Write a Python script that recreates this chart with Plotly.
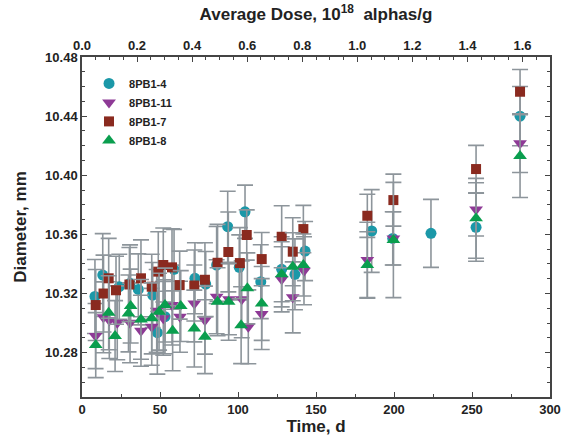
import plotly.graph_objects as go

# ---- data ----
t_4 = [8.3, 13.3, 23.9, 30.8, 36.1, 45.3, 48.3, 53.2, 59.0, 72.4, 79.3, 86.3, 93.4, 100.8,
       104.5, 114.6, 128.0, 136.5, 143.0, 185.7, 199.2, 223.7, 252.6, 280.8]
d_4 = [10.318, 10.3325, 10.3246, 10.3269, 10.3228, 10.319, 10.2935, 10.3043, 10.3364, 10.3303,
       10.3264, 10.3393, 10.3652, 10.3377, 10.3753, 10.328, 10.3364, 10.333, 10.3487, 10.3623,
       10.3573, 10.3607, 10.3648, 10.440]
e_4 = [0.025, 0.028, 0.022, 0.026, 0.024, 0.022, 0.028, 0.025, 0.027, 0.024,
       0.022, 0.026, 0.024, 0.022, 0.018, 0.025, 0.022, 0.024, 0.020, 0.028,
       0.018, 0.023, 0.023, 0.020]

t_11 = [8.7, 13.7, 17.5, 22.6, 30.8, 37.8, 44.7, 47.9, 52.1, 57.7, 62.8, 72.0, 78.8, 86.3,
        94.2, 102.4, 106.6, 115.2, 128.0, 135.1, 142.3, 182.9, 199.6, 252.6, 280.8]
d_11 = [10.2912, 10.3039, 10.302, 10.3002, 10.3002, 10.2948, 10.2975, 10.3083, 10.3032, 10.3122,
        10.3043, 10.3133, 10.302, 10.3178, 10.3161, 10.3161, 10.2975, 10.3061, 10.3296, 10.3174,
        10.3354, 10.3427, 10.3573, 10.3769, 10.4216]
e_11 = [0.022, 0.024, 0.026, 0.025, 0.027, 0.024, 0.026, 0.028, 0.025, 0.027,
        0.024, 0.026, 0.023, 0.025, 0.024, 0.026, 0.025, 0.024, 0.022, 0.024,
        0.023, 0.0255, 0.018, 0.018, 0.0197]

t_7 = [8.8, 13.8, 17.1, 21.8, 30.4, 37.8, 44.7, 48.9, 52.1, 57.7, 62.6, 72.0, 78.8, 86.9,
       93.8, 101.2, 105.6, 115.2, 128.0, 135.1, 141.9, 182.9, 199.6, 252.6, 280.8]
d_7 = [10.3122, 10.320, 10.3303, 10.3222, 10.3261, 10.3303, 10.3246, 10.3348, 10.3393, 10.3377,
       10.3257, 10.3254, 10.3293, 10.3408, 10.3481, 10.3406, 10.3596, 10.3433, 10.3584, 10.3483,
       10.3636, 10.3726, 10.3832, 10.4042, 10.4565]
e_7 = [0.024, 0.026, 0.027, 0.023, 0.025, 0.026, 0.022, 0.027, 0.025, 0.026,
       0.023, 0.024, 0.025, 0.026, 0.027, 0.024, 0.017, 0.018, 0.021, 0.023,
       0.016, 0.0146, 0.0176, 0.016, 0.015]

t_8 = [8.8, 17.1, 21.2, 29.8, 31.2, 37.8, 44.7, 49.4, 53.2, 58.1, 63.3, 72.0, 78.8, 86.9,
       94.0, 102.0, 106.0, 115.2, 128.0, 135.1, 141.9, 182.9, 199.6, 252.6, 280.8]
d_8 = [10.2851, 10.307, 10.2912, 10.3065, 10.3115, 10.3025, 10.3032, 10.3077, 10.3122, 10.2948,
       10.3115, 10.2963, 10.2908, 10.3144, 10.3144, 10.2986, 10.3235, 10.3133, 10.333, 10.3381,
       10.3393, 10.3393, 10.3562, 10.3709, 10.413]
e_8 = [0.022, 0.025, 0.024, 0.026, 0.025, 0.027, 0.024, 0.026, 0.025, 0.027,
       0.024, 0.026, 0.025, 0.023, 0.026, 0.026, 0.024, 0.025, 0.022, 0.023,
       0.021, 0.0225, 0.039, 0.027, 0.028]

x_range = [0, 300]
dose_range = [0, 1.70]
y_range = [10.25, 10.48]

FONT = "Arial, Liberation Sans, sans-serif"
ERR_COLOR = "#8d959b"
AX_COLOR = "#444444"
TXT = "#222222"

series = [
    ("8PB1-4", t_4, d_4, e_4, "circle", 11, "#1b98a8"),
    ("8PB1-11", t_11, d_11, e_11, "triangle-down", 12, "#8e3a96"),
    ("8PB1-7", t_7, d_7, e_7, "square", 10, "#8a2a1f"),
    ("8PB1-8", t_8, d_8, e_8, "triangle-up", 12, "#0a9e4e"),
]

fig = go.Figure()
for name, t, d, e, sym, sz, col in series:
    fig.add_trace(go.Scatter(
        x=t, y=d, mode="markers", name=name,
        marker=dict(symbol=sym, size=sz, color=col, line=dict(width=0)),
        error_y=dict(type="data", array=e, visible=True, color=ERR_COLOR,
                     thickness=1.6, width=8),
    ))

# invisible trace to activate top axis
fig.add_trace(go.Scatter(x=dose_range, y=[y_range[0], y_range[0]], xaxis="x2",
                         mode="markers", marker=dict(opacity=0), showlegend=False,
                         hoverinfo="skip"))

tick_font = dict(family=FONT, size=13, color=TXT, weight="bold")
title_font = dict(family=FONT, size=17, color=TXT, weight="bold")

axis_common = dict(showline=True, linecolor=AX_COLOR, linewidth=1.5, ticks="inside",
                   tickcolor=AX_COLOR, ticklen=5, tickwidth=1.2, showgrid=False,
                   zeroline=False, tickfont=tick_font)

fig.update_layout(
    width=577, height=438,
    margin=dict(l=82, r=27, t=57, b=41),
    paper_bgcolor="white", plot_bgcolor="white",
    font=dict(family=FONT, color=TXT),
    title=dict(text="Average Dose, 10<sup>18</sup>  alphas/g", font=title_font,
               x=0.5, xanchor="center", xref="paper",
               y=1 - 14 / 438, yanchor="middle", yref="container"),
    showlegend=True,
    legend=dict(x=0.015, y=0.965, xanchor="left", yanchor="top",
                bgcolor="rgba(0,0,0,0)", borderwidth=0,
                font=dict(family=FONT, size=11, color=TXT, weight="bold"),
                tracegroupgap=0, itemwidth=30),
    xaxis=dict(range=x_range, dtick=50, tick0=0, automargin=False,
               minor=dict(dtick=25, ticks="inside", ticklen=3, tickcolor=AX_COLOR),
               title=dict(text="Time, d", font=title_font, standoff=2),
               **axis_common),
    xaxis2=dict(range=dose_range, dtick=0.2, tick0=0, overlaying="x", side="top",
                tickformat=".1f", automargin=False,
                minor=dict(dtick=0.05, ticks="inside", ticklen=3, tickcolor=AX_COLOR),
                **axis_common),
    yaxis=dict(range=y_range, dtick=0.04, tick0=10.28, tickformat=".2f", mirror="ticks",
               automargin=False,
               minor=dict(dtick=0.01, ticks="inside", ticklen=3, tickcolor=AX_COLOR),
               title=dict(text="Diameter, mm", font=title_font, standoff=14),
               **axis_common),
)

fig.write_html("out.html")
